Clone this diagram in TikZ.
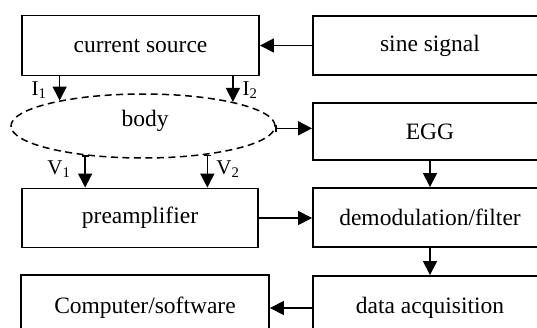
\documentclass[tikz,border=0pt]{standalone}
\usepackage{fontspec}
\setmainfont{Liberation Serif}
\usetikzlibrary{arrows.meta,shapes.geometric}
\begin{document}
\begin{tikzpicture}[x=1pt,y=-1pt,
  blk/.style={draw,line width=1.9pt,minimum width=#1,inner sep=0pt,font=\fontsize{23.5}{26}\selectfont},
  arr/.style={line width=1.6pt,-{Triangle[length=14pt,width=14pt]}},
  barr/.style={line width=1.6pt,{Bar[width=7pt,line width=1.2pt]}-{Triangle[length=14pt,width=14pt]}},
  lbl/.style={inner sep=0pt,font=\fontsize{21}{24}\selectfont}]
\useasboundingbox (0,0) rectangle (537,327);
\clip (0,0) rectangle (537,327);
\fill[white] (0,0) rectangle (537,327);
\node[blk=237pt,minimum height=60pt] (cs) at (140.5,45.5) {current source};
\node[blk=234pt,minimum height=59pt] (sine) at (430,45.5) {sine signal};
\node[blk=234pt,minimum height=57pt] (egg) at (430,131.5) {EGG};
\node[blk=236pt,minimum height=59pt] (pre) at (140,218) {preamplifier};
\node[blk=234pt,minimum height=59pt] (demod) at (430,217.5) {demodulation/filter};
\node[blk=248pt,minimum height=65pt] (comp) at (145,307.5) {Computer/software};
\node[blk=234pt,minimum height=64pt] (daq) at (430,308) {data acquisition};
\node[draw,ellipse,dash pattern=on 7pt off 4.5pt,line width=1.5pt,minimum width=264pt,minimum height=64pt,inner sep=0pt] (body) at (143,126) {};
\node[inner sep=0pt,font=\fontsize{23.5}{26}\selectfont] (bodytxt) at (145,121) {body};
\draw[arr] (sine.west) -- (cs.east);
\draw[arr] (cs.south -| body.163) -- (body.163);
\draw[arr] (cs.south -| body.15) -- (body.15);
\draw[barr] (body.207) -- (pre.north -| body.207);
\draw[barr] (body.336) -- (pre.north -| body.336);
\draw[barr] (body.-1.5) -- (egg.west |- body.-1.5);
\draw[arr] (egg.south) -- (demod.north);
\draw[arr] (pre.east) -- (demod.west |- pre.east);
\draw[arr] (demod.south) -- (daq.north);
\draw[arr] (daq.west) -- (comp.east |- daq.west);
\node[lbl] (i1) at (39,90) {I\textsubscript{1}};
\node[lbl] (i2) at (250,90) {I\textsubscript{2}};
\node[lbl] (v1) at (59,169) {V\textsubscript{1}};
\node[lbl] (v2) at (228,169) {V\textsubscript{2}};
\end{tikzpicture}
\end{document}
